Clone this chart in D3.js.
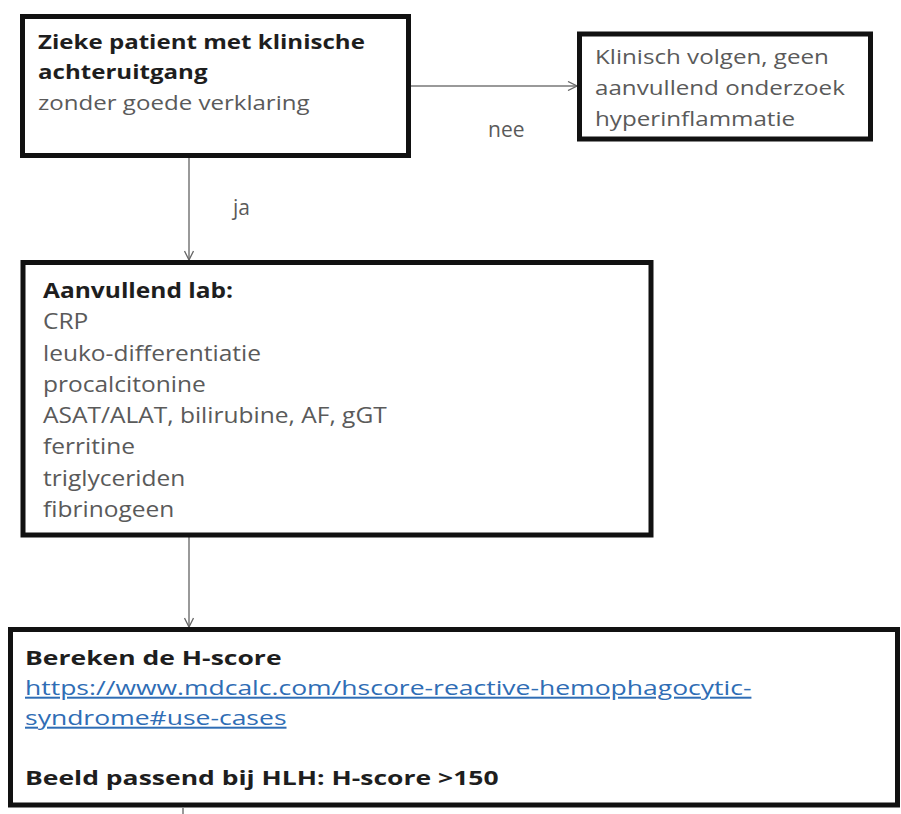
<!DOCTYPE html>
<html>
<head>
<meta charset="utf-8">
<script src="https://cdn.jsdelivr.net/npm/d3@7"></script>
<style>
  html, body { margin: 0; padding: 0; background: #fff; }
  svg { display: block; }
</style>
</head>
<body>
<svg class="d3" width="901" height="814"></svg>
<script>
// node ids, in drawing order
const nodeIds = ['start', 'followUp', 'lab', 'hscore'];

// text of each node: [text, style]  (b = bold, r = regular grey, l = link, '' = empty line)
const startLines = [
  ['Zieke patient met klinische', 'b'],
  ['achteruitgang', 'b'],
  ['zonder goede verklaring', 'r']
];
const followUpLines = [
  ['Klinisch volgen, geen', 'r'],
  ['aanvullend onderzoek', 'r'],
  ['hyperinflammatie', 'r']
];
const labLines = [
  ['Aanvullend lab:', 'b'],
  ['CRP', 'r'],
  ['leuko-differentiatie', 'r'],
  ['procalcitonine', 'r'],
  ['ASAT/ALAT, bilirubine, AF, gGT', 'r'],
  ['ferritine', 'r'],
  ['triglyceriden', 'r'],
  ['fibrinogeen', 'r']
];
const hscoreLines = [
  ['Bereken de H-score', 'b'],
  ['https://www.mdcalc.com/hscore-reactive-hemophagocytic-', 'l'],
  ['syndrome#use-cases', 'l'],
  ['', ''],
  ['Beeld passend bij HLH: H-score >150', 'b']
];

// edges: from, to, label
const edgeFrom = ['start', 'start', 'lab'];
const edgeTo = ['followUp', 'lab', 'hscore'];
const edgeLabels = ['nee', 'ja', ''];

// ---- layout (positions and sizes only) ----
const layout = {
  start:    { x: 22.5, y: 16.5, w: 386, h: 139, tx: 38, ty: 49, lh: 30.5, fs: 20, refLine: 0, refW: 327 },
  followUp: { x: 579.5, y: 34, w: 291, h: 105, tx: 595, ty: 64, lh: 31, fs: 20, refLine: 1, refW: 250 },
  lab:      { x: 23, y: 262.5, w: 628, h: 272.5, tx: 43, ty: 298, lh: 31.3, fs: 22, refLine: 4, refW: 344 },
  hscore:   { x: 10.5, y: 629.5, w: 887, h: 175.5, tx: 25, ty: 665, lh: 30, fs: 20, refLine: 1, refW: 727 }
};
const edgeGeom = [
  { x1: 411, y1: 86, x2: 577, y2: 86, lx: 488, ly: 137 },
  { x1: 189, y1: 158, x2: 189, y2: 260, lx: 233, ly: 215 },
  { x1: 189, y1: 537, x2: 189, y2: 627, lx: 0, ly: 0 }
];

const linesById = { start: startLines, followUp: followUpLines, lab: labLines, hscore: hscoreLines };
const colors = { b: '#1e1e1e', r: '#5a5a5a', l: '#2f6db5' };

const svg = d3.select('svg.d3');
const fontFamily = "'Open Sans', 'Noto Sans', sans-serif";

// arrow marker (open chevron)
svg.append('defs').append('marker')
  .attr('id', 'chev')
  .attr('viewBox', '0 -5 10 10')
  .attr('refX', 10)
  .attr('refY', 0)
  .attr('markerWidth', 10)
  .attr('markerHeight', 10)
  .attr('markerUnits', 'userSpaceOnUse')
  .attr('orient', 'auto')
  .append('path')
  .attr('d', 'M 1,-4.5 L 10,0 L 1,4.5')
  .attr('fill', 'none')
  .attr('stroke', '#666')
  .attr('stroke-width', 1.3);

// edges
svg.selectAll('line.edge')
  .data(edgeGeom)
  .enter()
  .append('line')
  .attr('class', 'edge')
  .attr('x1', d => d.x1)
  .attr('y1', d => d.y1)
  .attr('x2', d => d.x2)
  .attr('y2', d => d.y2)
  .attr('stroke', '#777')
  .attr('stroke-width', 1.5)
  .attr('marker-end', 'url(#chev)');

// small stub under the last box
svg.append('line')
  .attr('x1', 183).attr('y1', 808)
  .attr('x2', 183).attr('y2', 814)
  .attr('stroke', '#777')
  .attr('stroke-width', 1.5);

svg.selectAll('text.edge-label')
  .data(edgeLabels.map((t, i) => ({ t: t, g: edgeGeom[i] })).filter(d => d.t !== ''))
  .enter()
  .append('text')
  .attr('class', 'edge-label')
  .attr('x', d => d.g.lx)
  .attr('y', d => d.g.ly)
  .attr('font-family', fontFamily)
  .attr('font-size', '21px')
  .attr('fill', '#5a5a5a')
  .text(d => d.t);

// boxes
svg.selectAll('rect.node')
  .data(nodeIds)
  .enter()
  .append('rect')
  .attr('class', 'node')
  .attr('x', d => layout[d].x)
  .attr('y', d => layout[d].y)
  .attr('width', d => layout[d].w)
  .attr('height', d => layout[d].h)
  .attr('fill', '#fff')
  .attr('stroke', '#111')
  .attr('stroke-width', 5);

// box texts; each box's text gets stretched so a reference line matches the picture width
nodeIds.forEach(function (id) {
  const L = layout[id];
  const g = svg.append('g');
  const texts = g.selectAll('text')
    .data(linesById[id])
    .enter()
    .append('text')
    .attr('x', 0)
    .attr('y', (d, i) => L.ty + i * L.lh)
    .attr('font-family', fontFamily)
    .attr('font-size', L.fs + 'px')
    .attr('font-weight', d => d[1] === 'b' ? 700 : 400)
    .attr('fill', d => colors[d[1]] || '#000')
    .attr('text-decoration', d => d[1] === 'l' ? 'underline' : null)
    .text(d => d[0]);
  const refNode = texts.nodes()[L.refLine];
  const natural = refNode.getComputedTextLength();
  const sx = natural > 0 ? L.refW / natural : 1;
  g.attr('transform', 'translate(' + L.tx + ',0) scale(' + sx + ',1)');
});
</script>
</body>
</html>
